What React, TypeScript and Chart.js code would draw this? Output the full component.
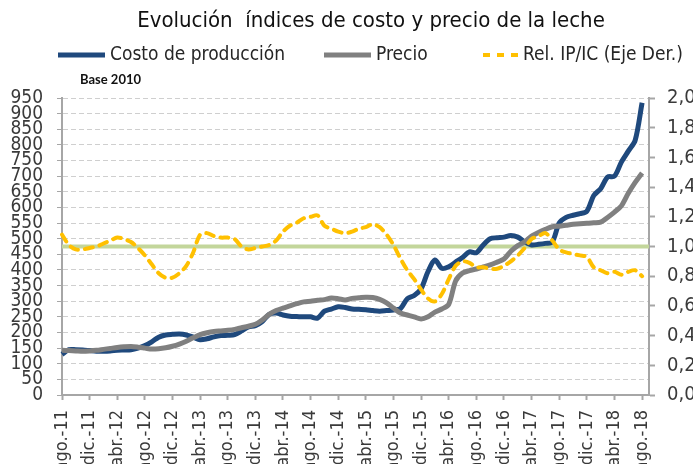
import { useEffect, useRef } from 'react';
import { Chart, registerables } from 'chart.js';

Chart.register(...registerables);

const FONT = "'Liberation Sans Narrow', 'DejaVu Sans Condensed', 'Arial Narrow', sans-serif";

const TITLE = 'Evolución  índices de costo y precio de la leche';
const SUBTITLE = 'Base 2010';
const SERIES_NAMES = ['Costo de producción', 'Precio', 'Rel. IP/IC (Eje Der.)'];

const MONTH_ABBR = ['ene.', 'feb.', 'mar.', 'abr.', 'may.', 'jun.', 'jul.', 'ago.', 'sep.', 'oct.', 'nov.', 'dic.'];
// ago.-11 .. sep.-18 (the last category only extends the axis)
const CATEGORIES = Array.from({ length: 86 }, (_, k) => {
  const m = (7 + k) % 12;
  const y = 2011 + Math.floor((7 + k) / 12);
  return `${MONTH_ABBR[m]}-${String(y % 100)}`;
});

const COSTO = [
  130, 145, 145, 144, 142, 140, 140, 141, 143, 144, 145, 150,
  158, 170, 185, 192, 194, 195, 192, 185, 177, 180, 186, 190,
  191, 193, 205, 218, 222, 235, 258, 262, 256, 252, 251, 250,
  250, 246, 268, 275, 282, 280, 275, 274, 273, 270, 268, 270,
  272, 276, 308, 318, 340, 395, 432, 405, 410, 425, 440, 458,
  455, 480, 500, 503, 505, 510, 505, 490, 480, 482, 485, 490,
  550, 568, 575, 580, 588, 638, 660, 697, 700, 745, 780, 815,
  935,
];

const PRECIO = [
  143, 142, 141, 140, 141, 143, 146, 149, 152, 154, 155, 153,
  150, 147, 148, 151, 156, 163, 172, 183, 193, 199, 203, 205,
  207, 210, 215, 220, 226, 240, 258, 270, 278, 285, 292, 298,
  300, 303, 305, 310, 308, 304, 309, 311, 313, 312, 306, 295,
  278, 262, 256, 250, 243, 250, 265, 275, 290, 365, 390, 398,
  403, 410, 416, 425, 435, 460, 478, 490, 508, 520, 530, 538,
  540, 543, 546, 548, 549, 551, 553, 568, 585, 605, 645, 680,
  710,
];

const RELACION = [
  1.08, 1.01, 0.98, 0.98, 0.99, 1.00, 1.02, 1.04, 1.06, 1.05, 1.03, 0.99,
  0.94, 0.88, 0.82, 0.79, 0.79, 0.82, 0.87, 0.96, 1.08, 1.09, 1.07, 1.06,
  1.06, 1.05, 1.00, 0.98, 0.99, 1.00, 1.01, 1.04, 1.10, 1.14, 1.16, 1.19,
  1.20, 1.21, 1.14, 1.12, 1.10, 1.09, 1.10, 1.12, 1.13, 1.15, 1.13, 1.08,
  1.01, 0.92, 0.84, 0.78, 0.71, 0.65, 0.63, 0.68, 0.78, 0.87, 0.90, 0.89,
  0.86, 0.86, 0.85, 0.85, 0.87, 0.90, 0.94, 0.99, 1.05, 1.07, 1.09, 1.04,
  0.98, 0.96, 0.95, 0.94, 0.93, 0.86, 0.84, 0.82, 0.83, 0.81, 0.83, 0.84,
  0.80,
];

const REFERENCE_RATIO = 1.0;

const BLUE = '#1f497d';
const GREY = '#808080';
const YELLOW = '#ffc000';
const GREEN = '#c3d69b';
const AXIS = '#a6a6a6';
const TEXT = '#3a3a3a';

export default function App() {
  const ref = useRef<HTMLCanvasElement>(null);

  useEffect(() => {
    if (!ref.current) return;

    const overlay = {
      id: 'overlay',
      beforeDatasetsDraw(chart: any) {
        const { ctx, chartArea, scales } = chart;
        const y = scales.y2.getPixelForValue(REFERENCE_RATIO);
        ctx.save();
        ctx.strokeStyle = GREEN;
        ctx.lineWidth = 4;
        ctx.beginPath();
        ctx.moveTo(chartArea.left, y);
        ctx.lineTo(chartArea.right, y);
        ctx.stroke();
        ctx.restore();
      },
      afterDraw(chart: any) {
        const { ctx } = chart;
        ctx.save();
        // title
        ctx.fillStyle = '#111';
        ctx.font = `22px ${FONT}`;
        ctx.textAlign = 'center';
        ctx.textBaseline = 'middle';
        ctx.fillText(TITLE, 371, 21);

        // legend
        const ly = 55;
        ctx.textAlign = 'left';
        ctx.font = `19px ${FONT}`;
        const items = [
          { x0: 58, x1: 105, tx: 110, color: BLUE, dash: [] as number[], w: 5 },
          { x0: 324, x1: 371, tx: 376, color: GREY, dash: [] as number[], w: 5 },
          { x0: 483, x1: 518, tx: 523, color: YELLOW, dash: [7, 7], w: 4 },
        ];
        items.forEach((it, i) => {
          ctx.strokeStyle = it.color;
          ctx.lineWidth = it.w;
          ctx.lineCap = 'butt';
          ctx.setLineDash(it.dash);
          ctx.beginPath();
          ctx.moveTo(it.x0, ly);
          ctx.lineTo(it.x1, ly);
          ctx.stroke();
          ctx.setLineDash([]);
          ctx.fillStyle = '#262626';
          ctx.fillText(SERIES_NAMES[i], it.tx, ly);
        });

        // subtitle
        ctx.font = `bold 13px Lato, 'Open Sans', sans-serif`;
        ctx.fillStyle = '#111';
        ctx.fillText(SUBTITLE, 80, 80);
        ctx.restore();
      },
    };

    const chart = new Chart(ref.current, {
      type: 'line',
      data: {
        labels: CATEGORIES,
        datasets: [
          {
            label: SERIES_NAMES[0],
            data: COSTO,
            borderColor: BLUE,
            borderWidth: 5,
            pointRadius: 0,
            tension: 0.3,
            yAxisID: 'y',
            order: 2,
          },
          {
            label: SERIES_NAMES[1],
            data: PRECIO,
            borderColor: GREY,
            borderWidth: 5,
            pointRadius: 0,
            tension: 0.3,
            yAxisID: 'y',
            order: 1,
          },
          {
            label: SERIES_NAMES[2],
            data: RELACION,
            borderColor: YELLOW,
            borderWidth: 4,
            borderDash: [8, 7],
            borderCapStyle: 'round',
            pointRadius: 0,
            tension: 0.3,
            yAxisID: 'y2',
            order: 0,
          },
        ],
      },
      options: {
        responsive: false,
        animation: false,
        devicePixelRatio: 1,
        layout: { padding: { top: 98, left: 0, right: 0, bottom: 0 } },
        plugins: {
          legend: { display: false },
          title: { display: false },
          tooltip: { enabled: false },
        },
        font: { family: FONT },
        scales: {
          x: {
            type: 'category',
            offset: false,
            afterBuildTicks: (scale: any) => {
              scale.ticks = scale.ticks.filter((t: any) => t.value % 4 === 0 && t.value <= 84);
            },
            afterFit: (scale: any) => {
              scale.height = 69;
            },
            grid: {
              drawOnChartArea: false,
              drawTicks: true,
              tickLength: 5,
              tickColor: AXIS,
              tickWidth: 2,
            },
            border: { display: true, color: AXIS, width: 2 },
            ticks: {
              autoSkip: false,
              minRotation: 90,
              maxRotation: 90,
              padding: 10,
              color: TEXT,
              font: { family: FONT, size: 18 },
              callback: function (this: any, value: any) {
                return this.getLabelForValue(value);
              },
            },
          },
          y: {
            position: 'left',
            min: 0,
            max: 950,
            afterFit: (scale: any) => {
              scale.width = 62;
            },
            grid: {
              color: '#cfcfcf',
              lineWidth: 1,
              drawTicks: true,
              tickLength: 5,
              tickColor: AXIS,
              tickWidth: 1,
            },
            border: { display: true, color: AXIS, width: 2, dash: [5, 3] },
            ticks: {
              stepSize: 50,
              autoSkip: false,
              padding: 14,
              color: TEXT,
              font: { family: FONT, size: 19 },
            },
          },
          y2: {
            position: 'right',
            min: 0,
            max: 2,
            afterFit: (scale: any) => {
              scale.width = 44;
            },
            grid: {
              drawOnChartArea: false,
              drawTicks: true,
              tickLength: 6,
              tickColor: AXIS,
              tickWidth: 2,
            },
            border: { display: true, color: AXIS, width: 2 },
            ticks: {
              stepSize: 0.2,
              autoSkip: false,
              padding: 12,
              color: TEXT,
              font: { family: FONT, size: 20 },
              callback: (v: any) => Number(v).toFixed(1).replace('.', ','),
            },
          },
        },
      },
      plugins: [overlay],
    } as any);

    return () => chart.destroy();
  }, []);

  return (
    <div style={{ position: 'absolute', left: 0, top: 0, width: 693, height: 464 }}>
      <canvas ref={ref} width={693} height={464} style={{ display: 'block', width: 693, height: 464 }} />
    </div>
  );
}
